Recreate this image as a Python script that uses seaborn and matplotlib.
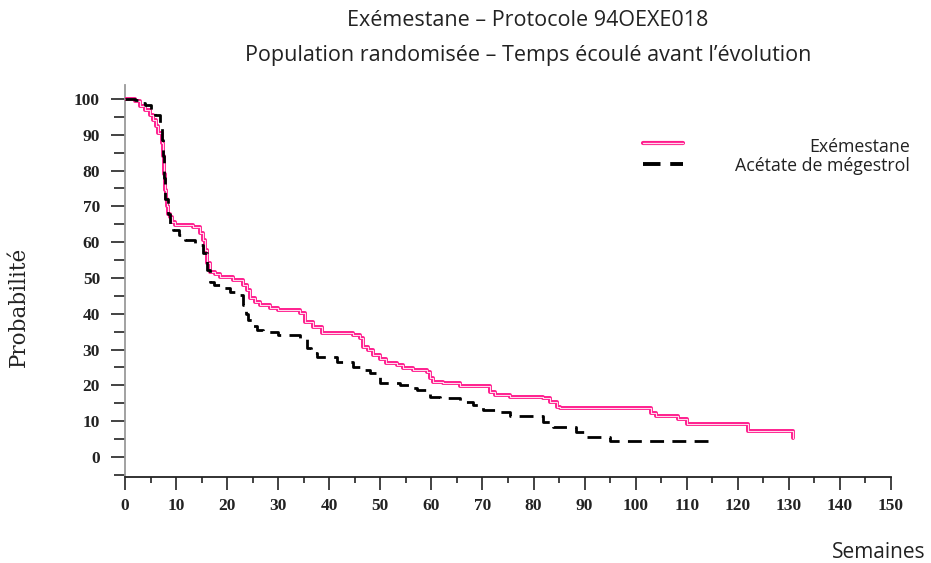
import numpy as np
import pandas as pd
import matplotlib
matplotlib.use('Agg')
import matplotlib.pyplot as plt
import matplotlib.patheffects as pe
from matplotlib.lines import Line2D
from matplotlib.ticker import MultipleLocator
import seaborn as sns

# ---- data ----
exe_weeks = [0, 2, 3, 4, 4.8, 5.5, 6, 6.5, 7.2, 7.5, 7.7, 7.8, 8, 8.2, 8.5, 8.8, 9.3, 9.8,
             13.3, 14.7, 15.3, 15.7, 16, 16.6, 17.6, 18.6, 21.2, 23.1, 23.8, 24.5, 25.5,
             26.4, 28.4, 30, 34.3, 35.2, 36.8, 38.5, 44.7, 46, 46.6, 47.5, 48.6, 50, 51.2,
             53.2, 54.5, 56.4, 59.1, 59.7, 60.3, 62.3, 65.6, 71.5, 72.5, 75.4, 81.9, 83.2,
             84.5, 85.2, 103, 104, 108.3, 110, 121.9, 130.9]
exe_prob = [100, 99.5, 98, 97, 95.5, 94, 92.5, 90.5, 87.7, 84, 79, 74.6, 72, 70, 68, 67, 65.5, 64.8,
            64.3, 62.5, 60.6, 57.8, 54.2, 51.8, 51.2, 50.4, 49.4, 48, 46.6, 44.4, 43.3,
            42.5, 41.6, 41, 40.2, 37.8, 36.4, 34.6, 34.1, 33.2, 30.8, 29.9, 28.5, 27.3, 26.3,
            25.7, 24.9, 24.3, 23.8, 22, 21, 20.7, 19.8, 18.2, 17.3, 16.8, 16.4, 15.4,
            14, 13.6, 12.2, 11.4, 10.5, 9.3, 7.3, 5.4]

meg_weeks = [0, 2, 3, 3.9, 5, 5.9, 6.9, 7.2, 7.5, 7.7, 7.9, 8.4, 8.9, 9.4, 10.5, 11.7, 13.7,
             15.3, 16, 16.6, 17.5, 18.6, 20.6, 22.5, 23.1, 23.6, 24.1, 24.8, 25.8, 27, 30,
             34.3, 35.6, 36.5, 37.5, 41.5, 44.7, 46.5, 48, 49.9, 53.8, 55.8, 57.1, 59.1, 59.7,
             61.7, 65.6, 68.1, 70.1, 72.8, 75.4, 81.8, 83.8, 88.4, 90.4, 95, 114.2]
meg_prob = [100, 99.7, 99, 98.3, 97, 95.5, 92.3, 88.5, 84, 78, 72, 68, 65, 63.4, 62, 60.6, 59.2,
            57, 52.2, 49, 48, 47.2, 46.2, 45.2, 42.5, 40, 38.3, 36.5, 35.5, 34.8, 34.1,
            33.2, 30.4, 29, 28, 26.6, 25.2, 24.2, 23.4, 20.6, 20.1, 19.2, 18.7, 18.2, 16.8,
            16.4, 15.4, 14.5, 13.1, 12.6, 11.3, 9.9, 8.3, 7.1, 5.5, 4.5, 2.2]

x_ticks = list(range(0, 151, 10))
y_ticks = list(range(0, 101, 10))
series_names = ['Exémestane', 'Acétate de mégestrol']
title_lines = ['Exémestane \u2013 Protocole 94OEXE018',
               'Population randomisée \u2013 Temps écoulé avant l\u2019évolution']
x_label = 'Semaines'
y_label = 'Probabilité'

# ---- style ----
sns.set_style('ticks')
plt.rcParams['font.family'] = ['Open Sans', 'DejaVu Sans']

PINK = '#ff1a8c'
TXT = '#222222'
W, H = 931, 563
fig = plt.figure(figsize=(W / 100, H / 100), dpi=100)
ax = fig.add_axes([125 / W, 1 - 477 / H, (891 - 125) / W, (477 - 85) / H])

df_exe = pd.DataFrame({'Semaines': exe_weeks, 'Probabilite': exe_prob})
df_meg = pd.DataFrame({'Semaines': meg_weeks, 'Probabilite': meg_prob})

sns.lineplot(data=df_exe, x='Semaines', y='Probabilite', ax=ax, estimator=None,
             drawstyle='steps-post', color='#ffdcec', linewidth=0.8, zorder=3,
             path_effects=[pe.Stroke(linewidth=2.8, foreground=PINK), pe.Normal()])
sns.lineplot(data=df_meg, x='Semaines', y='Probabilite', ax=ax, estimator=None,
             drawstyle='steps-post', color='black', linewidth=2.0, zorder=4)
ax.lines[-1].set_dashes((5, 3))

ax.set_xlim(0, 150)
ax.set_ylim(-5.6, 103.9)
ax.set_xticks(x_ticks)
ax.set_yticks(y_ticks)
ax.xaxis.set_minor_locator(MultipleLocator(5))
ax.yaxis.set_minor_locator(MultipleLocator(5))
ax.set_xlabel('')
ax.set_ylabel('')

for s in ['top', 'right']:
    ax.spines[s].set_visible(False)
ax.spines['left'].set_color('#9a9a9a')
ax.spines['left'].set_linewidth(1.3)
ax.spines['bottom'].set_color(TXT)
ax.spines['bottom'].set_linewidth(1.3)

ax.tick_params(axis='x', which='major', direction='out', length=9.4, width=1.2, color=TXT, pad=6)
ax.tick_params(axis='x', which='minor', direction='out', length=4.3, width=1.2, color=TXT)
ax.tick_params(axis='y', which='major', direction='out', length=10, width=1.2, color=TXT, pad=8)
ax.tick_params(axis='y', which='minor', direction='out', length=8, width=1.2, color=TXT)
for lab in ax.get_xticklabels() + ax.get_yticklabels():
    lab.set_fontfamily('Liberation Serif')
    lab.set_fontweight('bold')
    lab.set_fontsize(12.5)
    lab.set_color(TXT)

# titles and axis labels
fig.text(528 / W, 1 - 20 / H, title_lines[0], ha='center', va='center', fontsize=15.5, color=TXT)
fig.text(528 / W, 1 - 55 / H, title_lines[1], ha='center', va='center', fontsize=15.5, color=TXT)
fig.text(19 / W, 1 - 307 / H, y_label, rotation=90, ha='center', va='center',
         fontsize=15.5, family='DejaVu Serif', color=TXT)
fig.text(926 / W, 1 - 553 / H, x_label, ha='right', va='center', fontsize=15, color=TXT)

# legend (manual, right-aligned texts)
l1 = Line2D([643 / W, 683 / W], [1 - 143 / H, 1 - 143 / H], transform=fig.transFigure,
            color='#ffdcec', linewidth=0.9,
            path_effects=[pe.Stroke(linewidth=3.0, foreground=PINK), pe.Normal()])
l2 = Line2D([643 / W, 683 / W], [1 - 164 / H, 1 - 164 / H], transform=fig.transFigure,
            color='black', linewidth=2.8, dashes=(4.5, 2.5))
fig.add_artist(l1)
fig.add_artist(l2)
fig.text(910 / W, 1 - 147 / H, series_names[0], ha='right', va='center', fontsize=12.8, color=TXT)
fig.text(910 / W, 1 - 166 / H, series_names[1], ha='right', va='center', fontsize=12.8, color=TXT)

fig.savefig('out.png', dpi=100)
